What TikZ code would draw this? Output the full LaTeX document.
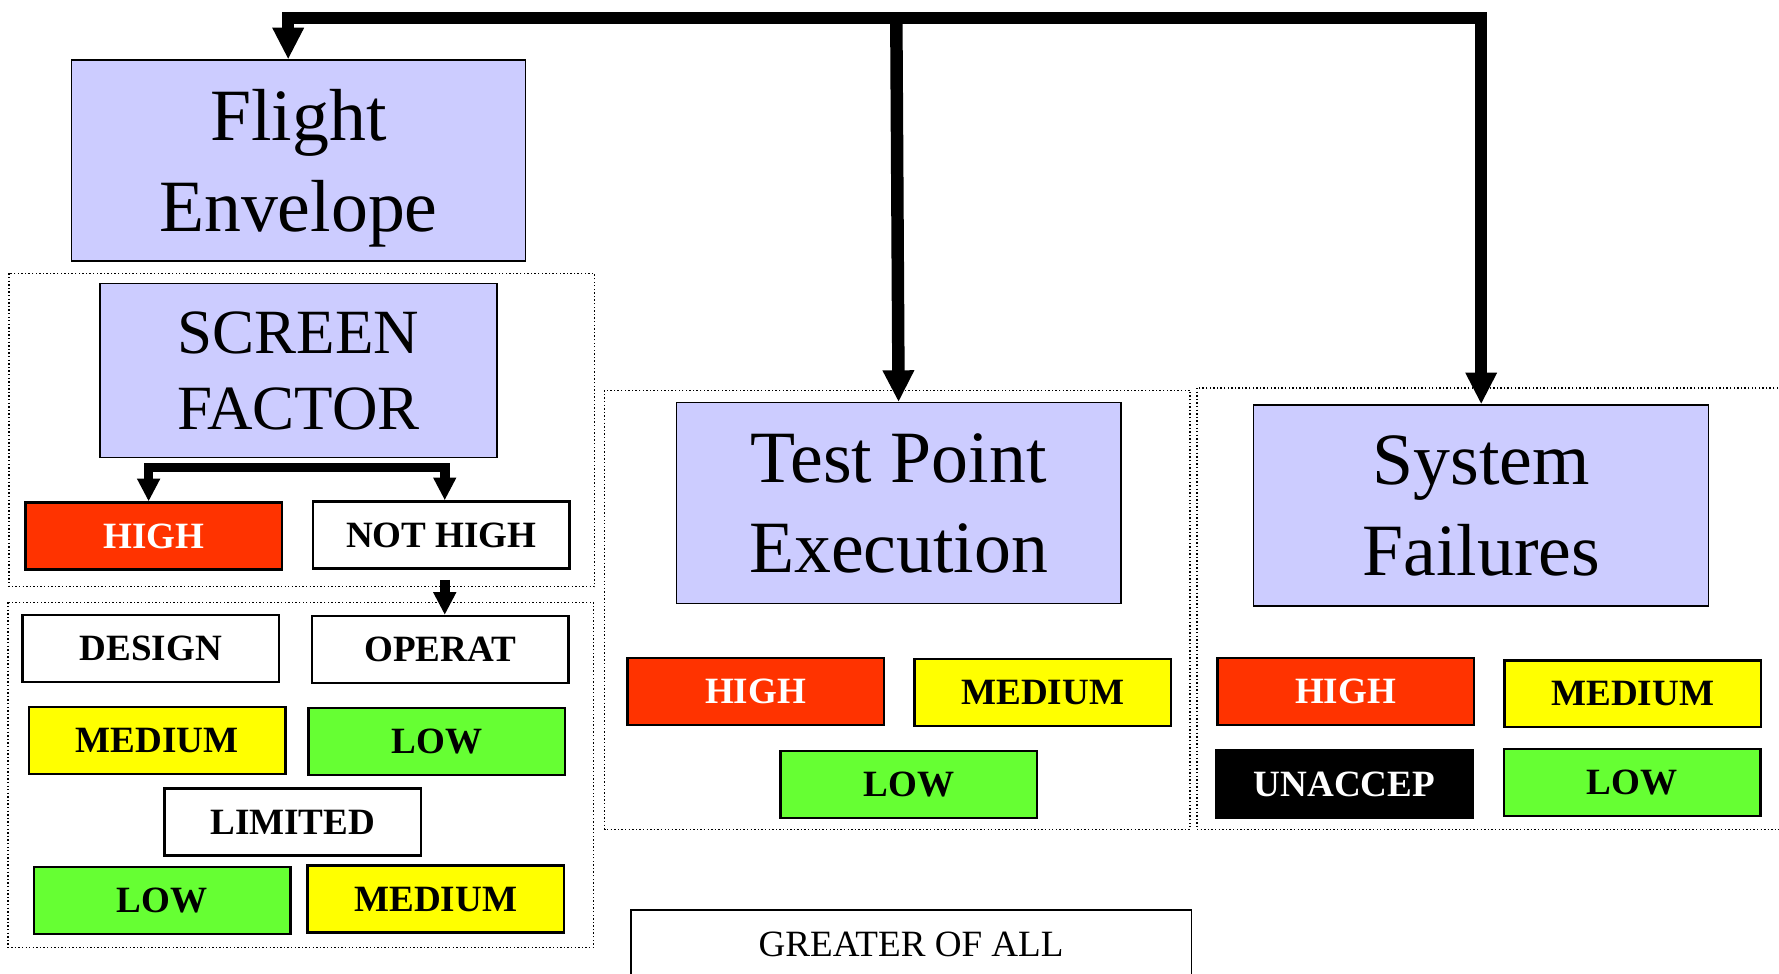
\documentclass[tikz,border=0pt]{standalone}
\usepackage{fontspec}
\setmainfont{Liberation Serif}
\usetikzlibrary{arrows.meta}

\definecolor{boxblue}{RGB}{204,204,255}
\definecolor{riskhigh}{RGB}{255,51,0}
\definecolor{riskmed}{RGB}{255,255,0}
\definecolor{risklow}{RGB}{102,255,51}

\tikzset{
  headbox/.style={draw, line width=0.7pt, fill=boxblue, align=center, inner sep=0pt,
    text depth=-1.8mm, font=\fontsize{37}{45.5}\selectfont},
  rating/.style={draw, line width=1.2pt, minimum width=45.2mm, minimum height=11.8mm,
    inner sep=0pt, text depth=-0.8mm, font=\bfseries\fontsize{18.6}{20}\selectfont},
  rhigh/.style={rating, fill=riskhigh, text=white},
  rmed/.style={rating, fill=riskmed},
  rlow/.style={rating, fill=risklow},
  rplain/.style={rating, fill=white},
  runacc/.style={rating, fill=black, text=white},
  grpbox/.style={line width=0.7pt, dash pattern=on 0.7pt off 1.1pt},
  busline/.style={line width=2.2mm, -{Triangle[width=5.2mm, length=5.6mm]}},
  splitline/.style={line width=1.7mm, -{Triangle[width=3.8mm, length=4mm]}}
}

\begin{document}
\begin{tikzpicture}[x=0.2mm, y=-0.2mm]
    \path[use as bounding box, clip] (0,0) rectangle (1568,858);

    % Dotted frames round each group
    \draw[grpbox] (8,241) rectangle (524,517);
    \draw[grpbox] (7,531) rectangle (523,835);
    \draw[grpbox] (533,344) rectangle (1049,731);
    \draw[grpbox] (1055,342) rectangle (1580,731);

    % Heading boxes
    \node[headbox, text depth=-0.4mm, minimum width=80mm, minimum height=35.4mm] (flight) at (263,141.5) {Flight\\Envelope};
    \node[headbox, text depth=-1.2mm, minimum width=70mm, minimum height=30.6mm, font=\fontsize{31.6}{38}\selectfont] (screen) at (263,326.5) {SCREEN\\FACTOR};
    \node[headbox, minimum width=78.4mm, minimum height=35.4mm] (tpe) at (792,443.5) {Test Point\\Execution};
    \node[headbox, minimum width=80.2mm, minimum height=35.4mm] (sysf) at (1305.5,445.5) {System\\Failures};

    % Screen factor outcomes
    \node[rhigh] (high1) at (135.5,472.5) {HIGH};
    \node[rplain] (nothigh) at (389,471.5) {NOT HIGH};

    % Not high breakdown
    \node[rplain] (design) at (133,571.5) {DESIGN};
    \node[rplain] (operat) at (388,572.5) {OPERAT};
    \node[rmed] (med1) at (138.5,652.5) {MEDIUM};
    \node[rlow] (low1) at (385,653.5) {LOW};
    \node[rplain] (limited) at (258,724.5) {LIMITED};
    \node[rlow] (low2) at (143,793.5) {LOW};
    \node[rmed] (med2) at (384,792.5) {MEDIUM};

    % Test point execution levels
    \node[rhigh] (high2) at (666,609.5) {HIGH};
    \node[rmed] (med3) at (919,610.5) {MEDIUM};
    \node[rlow] (low3) at (801,691.5) {LOW};

    % System failure levels
    \node[rhigh] (high3) at (1186,609.5) {HIGH};
    \node[rmed] (med4) at (1439,611.5) {MEDIUM};
    \node[runacc] (unacc) at (1185,691) {UNACCEP};
    \node[rlow] (low4) at (1438.5,689.5) {LOW};

    % Result box, runs off the bottom
    \node[draw, line width=0.8pt, minimum width=98.8mm, minimum height=12mm, inner sep=0pt,
      font=\fontsize{18.6}{20}\selectfont] (greater) at (803,832) {GREATER OF ALL};

    % Top bus to the three headings
    \coordinate (bus) at (790,16);
    \draw[busline] (bus) -| ([xshift=-1.8mm]flight.north);
    \draw[busline] (bus) -- (tpe.north);
    \draw[busline] (bus) -| (sysf.north);

    % Split under the screen factor
    \coordinate (split) at (263,412);
    \draw[splitline] (split) -| ([xshift=-0.9mm]high1.north);
    \draw[splitline] (split) -| ([xshift=0.6mm]nothigh.north);
    \draw[splitline, shorten <=1.8mm] ([xshift=0.6mm]nothigh.south) -- ([xshift=0.8mm]operat.north);
\end{tikzpicture}
\end{document}
